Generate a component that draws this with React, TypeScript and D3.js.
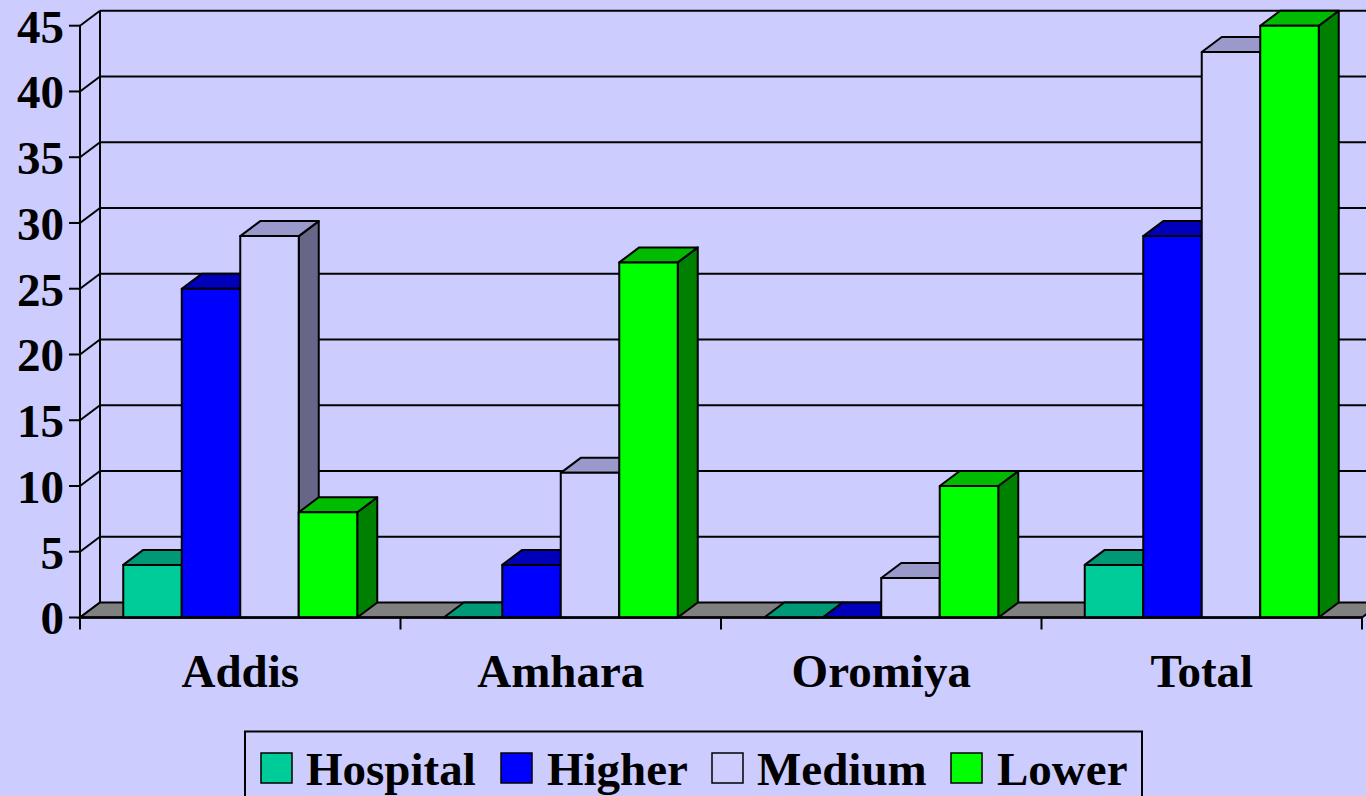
import React from 'react';
import * as d3 from 'd3';

// regions on the x axis
const categories = ['Addis', 'Amhara', 'Oromiya', 'Total'];
const seriesNames = ['Hospital', 'Higher', 'Medium', 'Lower'];

// values per series, in category order
const hospital = [4, 0, 0, 4];
const higher = [25, 4, 0, 29];
const medium = [29, 11, 3, 43];
const lower = [8, 27, 10, 45];

const yTicks = [0, 5, 10, 15, 20, 25, 30, 35, 40, 45];

const W = 1366;
const H = 796;
const BG = '#CCCCFF';
const FONT = '"Liberation Serif", "Times New Roman", serif';

// front, top, side colours per series
const palette = [
  { front: '#00CC99', top: '#009977', side: '#006650' },
  { front: '#0000FF', top: '#0000BB', side: '#000080' },
  { front: '#CCCCFF', top: '#9999CC', side: '#666688' },
  { front: '#00FF00', top: '#00BB00', side: '#008000' },
];

const App = () => {
  const margin = { left: 80, right: 1362, top: 25.7, bottom: 617.5 };
  const depth = { dx: 20, dy: -15 };

  const xScale = d3.scaleBand<string>()
    .domain(categories)
    .range([margin.left, margin.right])
    .padding(0);

  const groupW = xScale.bandwidth();
  const inner = d3.scaleBand<string>()
    .domain(seriesNames)
    .range([43.25, groupW - 43.25])
    .padding(0);

  const yScale = d3.scaleLinear()
    .domain([0, 45])
    .range([margin.bottom, margin.top]);

  const seriesValues = [hospital, higher, medium, lower];
  const y0 = yScale(0);
  const { dx, dy } = depth;

  const poly = (pts: [number, number][]) => pts.map(p => p.join(',')).join(' ');

  // back wall + left wall grid
  const grid = yTicks.map(t => {
    const y = yScale(t);
    return (
      <g key={`g${t}`}>
        {t > 0 && (
          <line x1={margin.left + dx} x2={W + 30} y1={y + dy} y2={y + dy} stroke="#000" strokeWidth={2} />
        )}
        <line x1={margin.left} x2={margin.left + dx} y1={y} y2={y + dy} stroke="#000" strokeWidth={2} />
        <line x1={margin.left - 11} x2={margin.left} y1={y} y2={y} stroke="#000" strokeWidth={2} />
        <text
          x={64}
          y={y}
          dy="0.36em"
          textAnchor="end"
          fontFamily={FONT}
          fontWeight="bold"
          fontSize={47}
        >
          {t}
        </text>
      </g>
    );
  });

  const floor = poly([
    [margin.left, y0],
    [margin.right, y0],
    [margin.right + dx, y0 + dy],
    [margin.left + dx, y0 + dy],
  ]);

  const bars = categories.map((c, ci) => {
    const gx = xScale(c) as number;
    return (
      <g key={c}>
        {seriesNames.map((s, si) => {
          const v = seriesValues[si][ci];
          const x = gx + (inner(s) as number);
          const w = inner.bandwidth();
          const yt = yScale(v);
          const col = palette[si];
          return (
            <g key={s} stroke="#000" strokeWidth={2} strokeLinejoin="round">
              {v > 0 && (
                <polygon
                  points={poly([[x + w, yt], [x + w + dx, yt + dy], [x + w + dx, y0 + dy], [x + w, y0]])}
                  fill={col.side}
                />
              )}
              <polygon
                points={poly([[x, yt], [x + dx, yt + dy], [x + w + dx, yt + dy], [x + w, yt]])}
                fill={col.top}
              />
              {v > 0 && <rect x={x} y={yt} width={w} height={y0 - yt} fill={col.front} />}
            </g>
          );
        })}
      </g>
    );
  });

  const catTicks = [...categories.map(c => xScale(c) as number), margin.right];

  // legend layout
  const legendItems = [
    { name: 'Hospital', sx: 261, tx: 306 },
    { name: 'Higher', sx: 501, tx: 547 },
    { name: 'Medium', sx: 712, tx: 757 },
    { name: 'Lower', sx: 951, tx: 997 },
  ];

  return (
    <div style={{ position: 'fixed', left: 0, top: 0, width: W, height: H, background: BG }}>
      <svg width={W} height={H} style={{ display: 'block' }}>
        <rect width={W} height={H} fill={BG} />
        {grid}
        <line x1={margin.left + dx} x2={margin.left + dx} y1={y0 + dy} y2={yScale(45) + dy} stroke="#000" strokeWidth={2} />
        <line x1={margin.left} x2={margin.left} y1={y0} y2={yScale(45)} stroke="#000" strokeWidth={2} />
        <polygon points={floor} fill="#808080" stroke="#000" strokeWidth={2} />
        {bars}
        <line x1={margin.left} x2={margin.right} y1={y0} y2={y0} stroke="#000" strokeWidth={2.5} />
        {catTicks.map((x, i) => (
          <line key={i} x1={x} x2={x} y1={y0} y2={y0 + 12} stroke="#000" strokeWidth={2} />
        ))}
        {categories.map(c => (
          <text
            key={c}
            x={(xScale(c) as number) + groupW / 2}
            y={687}
            textAnchor="middle"
            fontFamily={FONT}
            fontWeight="bold"
            fontSize={47}
          >
            {c}
          </text>
        ))}
        <rect x={245} y={731.5} width={897} height={100} fill={BG} stroke="#000" strokeWidth={2} />
        {legendItems.map((it, i) => (
          <g key={it.name}>
            <rect x={it.sx} y={753} width={31} height={30} fill={palette[i].front} stroke="#000" strokeWidth={1.5} />
            <text x={it.tx} y={785} fontFamily={FONT} fontWeight="bold" fontSize={47}>
              {it.name}
            </text>
          </g>
        ))}
      </svg>
    </div>
  );
};

export default App;
